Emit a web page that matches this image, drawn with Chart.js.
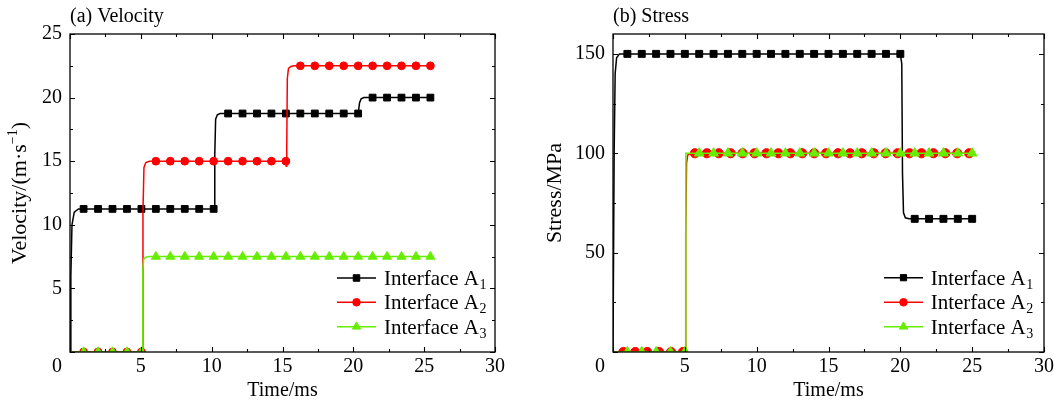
<!DOCTYPE html>
<html><head><meta charset="utf-8">
<script src="https://cdn.jsdelivr.net/npm/chart.js@4.4.1/dist/chart.umd.min.js"></script>
<style>
html,body{margin:0;padding:0;background:#fff;}
#wrap{position:relative;width:1061px;height:408px;overflow:hidden;background:#fff;}
canvas{position:absolute;top:0;}
#c1{left:0}
#c2{left:530px}
</style></head><body>
<div id="wrap"><canvas id="c1" width="530" height="408"></canvas><canvas id="c2" width="531" height="408"></canvas></div>
<script>
const FONT = "'Liberation Serif','Times New Roman',serif";

// ---------------- data ----------------
const seriesNames = ['Interface A', 'Interface A', 'Interface A'];
const seriesSubs = ['1', '2', '3'];

const xMajor = [0, 5, 10, 15, 20, 25, 30];
const xMinor = [2.5, 7.5, 12.5, 17.5, 22.5, 27.5];
const velMajor = [0, 5, 10, 15, 20, 25];
const velMinor = [2.5, 7.5, 12.5, 17.5, 22.5];
const velLabels = [5, 10, 15, 20, 25];
const stressMajor = [0, 50, 100, 150];
const stressMinor = [25, 75, 125];
const stressLabels = [50, 100, 150];

// (a) Velocity — marker times
const velMarkT = [0.96, 1.98, 3.00, 4.02, 5.04, 6.06, 7.08, 8.10, 9.12, 10.14, 11.16, 12.18, 13.20, 14.22, 15.24, 16.26, 17.28, 18.30, 19.32, 20.34, 21.36, 22.38, 23.40, 24.42, 25.44];

const velA1T = [0, 0.06, 0.14, 0.3, 0.6, 0.96, 1.98, 3.00, 4.02, 5.04, 6.06, 7.08, 8.10, 9.12, 10.14, 10.18, 10.22, 10.28, 10.4, 10.6, 11.16, 12.18, 13.20, 14.22, 15.24, 16.26, 17.28, 18.30, 19.32, 20.34, 20.38, 20.44, 20.55, 20.75, 21.36, 22.38, 23.40, 24.42, 25.44];
const velA1V = [0, 6, 10, 11.0, 11.25, 11.25, 11.25, 11.25, 11.25, 11.25, 11.25, 11.25, 11.25, 11.25, 11.25, 11.25, 15.5, 18.3, 18.65, 18.75, 18.75, 18.75, 18.75, 18.75, 18.75, 18.75, 18.75, 18.75, 18.75, 18.75, 18.75, 19.6, 19.9, 20, 20, 20, 20, 20, 20];

const velA2T = [0, 0.96, 1.98, 3.00, 4.02, 5.04, 5.1, 5.15, 5.22, 5.35, 5.6, 6.06, 7.08, 8.10, 9.12, 10.14, 11.16, 12.18, 13.20, 14.22, 15.24, 15.27, 15.3, 15.34, 15.42, 15.6, 15.8, 16.26, 17.28, 18.30, 19.32, 20.34, 21.36, 22.38, 23.40, 24.42, 25.44];
const velA2V = [0, 0, 0, 0, 0, 0, 0, 11, 14.5, 14.9, 15, 15, 15, 15, 15, 15, 15, 15, 15, 15, 15, 14.6, 16, 21.5, 22.3, 22.45, 22.5, 22.5, 22.5, 22.5, 22.5, 22.5, 22.5, 22.5, 22.5, 22.5, 22.5];

const velA3T = [0, 0.96, 1.98, 3.00, 4.02, 5.04, 5.1, 5.14, 5.2, 5.35, 5.6, 6.06, 7.08, 8.10, 9.12, 10.14, 11.16, 12.18, 13.20, 14.22, 15.24, 16.26, 17.28, 18.30, 19.32, 20.34, 21.36, 22.38, 23.40, 24.42, 25.44];
const velA3V = [0, 0, 0, 0, 0, 0, 0, 6.5, 7.3, 7.45, 7.5, 7.5, 7.5, 7.5, 7.5, 7.5, 7.5, 7.5, 7.5, 7.5, 7.5, 7.5, 7.5, 7.5, 7.5, 7.5, 7.5, 7.5, 7.5, 7.5, 7.5];

// (b) Stress — marker times
const strMarkT = [1, 2, 3, 4, 5, 6, 7, 8, 9, 10, 11, 12, 13, 14, 15, 16, 17, 18, 19, 20, 21, 22, 23, 24, 25];
const strRedMarkT = [0.72, 1.55, 2.38, 3.21, 4.04, 4.87, 5.70, 6.53, 7.36, 8.19, 9.02, 9.85, 10.68, 11.51, 12.34, 13.17, 14.00, 14.83, 15.66, 16.49, 17.32, 18.15, 18.98, 19.81, 20.64, 21.47, 22.30, 23.13, 23.96, 24.79];

const strA1T = [0, 0.08, 0.15, 0.25, 0.45, 1, 2, 3, 4, 5, 6, 7, 8, 9, 10, 11, 12, 13, 14, 15, 16, 17, 18, 19, 20, 20.1, 20.15, 20.22, 20.35, 20.6, 21, 22, 23, 24, 25];
const strA1V = [0, 100, 140, 148, 150, 150, 150, 150, 150, 150, 150, 150, 150, 150, 150, 150, 150, 150, 150, 150, 150, 150, 150, 150, 150, 145, 90, 70, 67.5, 67, 67, 67, 67, 67, 67];

const strA2T = [0, 0.72, 1.55, 2.38, 3.21, 4.04, 4.87, 5.02, 5.06, 5.12, 5.2, 5.4, 5.70, 6.53, 7.36, 8.19, 9.02, 9.85, 10.68, 11.51, 12.34, 13.17, 14.00, 14.83, 15.66, 16.49, 17.32, 18.15, 18.98, 19.81, 20.64, 21.47, 22.30, 23.13, 23.96, 24.79, 25.1];
const strA2V = [0, 0, 0, 0, 0, 0, 0, 0, 60, 95, 99, 100, 100, 100, 100, 100, 100, 100, 100, 100, 100, 100, 100, 100, 100, 100, 100, 100, 100, 100, 100, 100, 100, 100, 100, 100, 100];

const strA3T = [0, 1, 2, 3, 4, 5, 5.05, 5.07, 6, 7, 8, 9, 10, 11, 12, 13, 14, 15, 16, 17, 18, 19, 20, 21, 22, 23, 24, 25];
const strA3V = [0, 0, 0, 0, 0, 0, 0, 100, 100, 100, 100, 100, 100, 100, 100, 100, 100, 100, 100, 100, 100, 100, 100, 100, 100, 100, 100, 100];

// ---------------- styles ----------------
const COLORS = ['#000000', '#ff0000', '#66ee00'];
const STYLES = ['rect', 'circle', 'triangle'];

function mk(i, T, V, marks, r) {
  const set = new Set(marks);
  return {
    label: seriesNames[i] + seriesSubs[i],
    data: T.map((t, k) => ({x: t, y: V[k]})),
    borderColor: COLORS[i], backgroundColor: COLORS[i], borderWidth: 1.5,
    pointStyle: STYLES[i], pointBackgroundColor: COLORS[i], pointBorderColor: COLORS[i],
    pointBorderWidth: 1,
    pointRadius: c => (c.raw && set.has(c.raw.x)) ? r : 0,
    pointHoverRadius: 0,
    tension: 0,
    order: 2 - i
  };
}

function scales(yMin, yMax, yLabels, yW) {
  return {
    x: {
      type: 'linear', min: 0, max: 30,
      grid: {display: false, drawTicks: false}, border: {display: false},
      afterBuildTicks: s => { s.ticks = xMajor.map(v => ({value: v})); },
      afterFit: s => { s.height = 56; },
      ticks: {color: '#000', font: {family: FONT, size: 20}, padding: 3, maxRotation: 0, autoSkip: false,
              callback: v => (v === 0 ? '' : String(v))}
    },
    y: {
      type: 'linear', min: yMin, max: yMax,
      grid: {display: false, drawTicks: false}, border: {display: false},
      afterBuildTicks: s => { s.ticks = yLabels.map(v => ({value: v})); },
      afterFit: s => { s.width = yW; },
      ticks: {color: '#000', font: {family: FONT, size: 20}, padding: 8, autoSkip: false}
    }
  };
}

const decor = {
  id: 'decor',
  afterDatasetsDraw(chart, args, o) {
    const {ctx, chartArea: a} = chart;
    const x = chart.scales.x, y = chart.scales.y;
    ctx.save();
    ctx.strokeStyle = '#000';
    ctx.lineWidth = 1.3;
    ctx.strokeRect(a.left, a.top, a.right - a.left, a.bottom - a.top);
    ctx.lineWidth = 1.1;
    ctx.beginPath();
    const xt = (arr, len) => arr.forEach(v => {
      const p = Math.round(x.getPixelForValue(v)) + 0.5;
      ctx.moveTo(p, a.bottom); ctx.lineTo(p, a.bottom - len);
      ctx.moveTo(p, a.top); ctx.lineTo(p, a.top + len);
    });
    const yt = (arr, len) => arr.forEach(v => {
      const p = Math.round(y.getPixelForValue(v)) + 0.5;
      ctx.moveTo(a.left, p); ctx.lineTo(a.left + len, p);
      ctx.moveTo(a.right, p); ctx.lineTo(a.right - len, p);
    });
    xt(xMajor, 5); xt(xMinor, 3);
    yt(o.yMajor, 5); yt(o.yMinor, 3);
    ctx.stroke();

    ctx.fillStyle = '#000';
    ctx.font = '20px ' + FONT;
    // panel title
    ctx.textAlign = 'left'; ctx.textBaseline = 'alphabetic';
    ctx.fillText(o.title, a.left, 22);
    // x title
    ctx.textAlign = 'center';
    ctx.fillText(o.xTitle, (a.left + a.right) / 2, 396);
    // offset "0" label
    ctx.textBaseline = 'middle';
    ctx.fillText('0', x.getPixelForValue(0) - 13, a.bottom + 3 + 12);

    // y title (rotated, with parts)
    ctx.save();
    ctx.translate(o.yTitleX, (a.top + a.bottom) / 2);
    ctx.rotate(-Math.PI / 2);
    ctx.textBaseline = 'alphabetic'; ctx.textAlign = 'left';
    let total = 0;
    o.yTitle.forEach(p => { ctx.font = p.size + 'px ' + FONT; total += ctx.measureText(p.t).width; });
    let cx = -total / 2;
    o.yTitle.forEach(p => { ctx.font = p.size + 'px ' + FONT; ctx.fillText(p.t, cx, p.dy); cx += ctx.measureText(p.t).width; });
    ctx.restore();

    // legend
    const lg = o.legend;
    for (let i = 0; i < 3; i++) {
      const ry = lg.rows[i];
      ctx.strokeStyle = COLORS[i]; ctx.lineWidth = 1.5;
      ctx.beginPath(); ctx.moveTo(lg.x0, ry); ctx.lineTo(lg.x1, ry); ctx.stroke();
      ctx.fillStyle = COLORS[i]; ctx.strokeStyle = COLORS[i]; ctx.lineWidth = 1;
      Chart.helpers.drawPoint(ctx, {pointStyle: STYLES[i], radius: lg.r[i], rotation: 0, borderWidth: 1}, (lg.x0 + lg.x1) / 2, ry);
      ctx.fillStyle = '#000';
      ctx.font = '21px ' + FONT; ctx.textAlign = 'left'; ctx.textBaseline = 'alphabetic';
      ctx.fillText(seriesNames[i], lg.tx, ry + 7);
      const w = ctx.measureText(seriesNames[i]).width;
      ctx.font = '14px ' + FONT;
      ctx.fillText(seriesSubs[i], lg.tx + w + 0.5, ry + 11);
    }
    ctx.restore();
  }
};

const common = {
  responsive: false, animation: false, devicePixelRatio: 1, events: [],
  plugins: {legend: {display: false}, tooltip: {enabled: false}}
};

new Chart(document.getElementById('c1'), {
  type: 'line',
  data: {datasets: [
    mk(0, velA1T, velA1V, velMarkT, 4.8),
    mk(1, velA2T, velA2V, velMarkT, 3.9),
    mk(2, velA3T, velA3V, velMarkT, 5.2)
  ]},
  options: Object.assign({}, common, {
    layout: {padding: {left: 0, right: 35, top: 34, bottom: 0}},
    scales: scales(0, 25, velLabels, 70),
    plugins: Object.assign({}, common.plugins, {decor: {
      title: '(a) Velocity', xTitle: 'Time/ms', yMajor: velMajor, yMinor: velMinor,
      yTitleX: 26,
      yTitle: [{t: 'Velocity/(m·s', size: 22, dy: 0}, {t: '−1', size: 14, dy: -9}, {t: ')', size: 22, dy: 0}],
      legend: {x0: 337, x1: 376, tx: 384, rows: [278, 302.3, 326.7], r: [4.6, 3.8, 4.8]}
    }})
  }),
  plugins: [decor]
});

new Chart(document.getElementById('c2'), {
  type: 'line',
  data: {datasets: [
    mk(0, strA1T, strA1V, strMarkT, 4.9),
    mk(1, strA2T, strA2V, strRedMarkT, 4.6),
    mk(2, strA3T, strA3V, strMarkT, 5.6)
  ]},
  options: Object.assign({}, common, {
    layout: {padding: {left: 0, right: 17, top: 34, bottom: 0}},
    scales: scales(0, 160, stressLabels, 83),
    plugins: Object.assign({}, common.plugins, {decor: {
      title: '(b) Stress', xTitle: 'Time/ms', yMajor: stressMajor, yMinor: stressMinor,
      yTitleX: 31,
      yTitle: [{t: 'Stress/MPa', size: 22, dy: 0}],
      legend: {x0: 354, x1: 393, tx: 400.7, rows: [277.7, 302.3, 326.7], r: [4.4, 3.8, 4.8]}
    }})
  }),
  plugins: [decor]
});
</script>
</body></html>
